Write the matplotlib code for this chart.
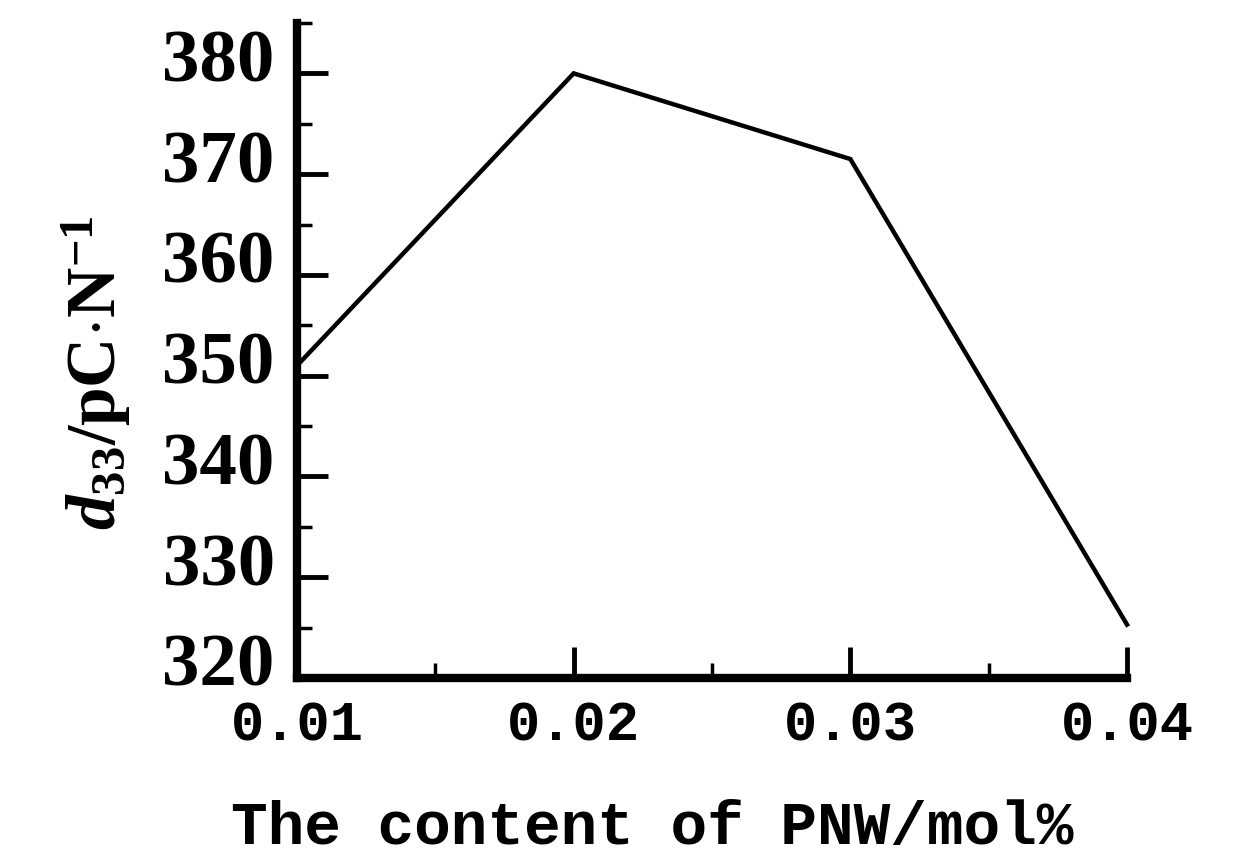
import matplotlib
matplotlib.use("Agg")
import matplotlib.pyplot as plt
import matplotlib.transforms as mtransforms
from matplotlib.ticker import MultipleLocator, FormatStrFormatter

# PNW content (mol%) and piezoelectric constant d33 (pC/N)
pnw_content = [0.01, 0.02, 0.03, 0.04]
d33_values = [351.0, 380.0, 371.5, 325.3]

plt.rcParams['mathtext.fontset'] = 'custom'
plt.rcParams['mathtext.rm'] = 'Liberation Serif:bold'
plt.rcParams['mathtext.it'] = 'Liberation Serif:italic:bold'
plt.rcParams['mathtext.bf'] = 'Liberation Serif:bold'

fig = plt.figure(figsize=(12.52, 8.65), dpi=100)
ax = fig.add_axes([297 / 1252, 1 - 678 / 865, 830 / 1252, 655 / 865])

ax.plot(pnw_content, d33_values, color='black', linewidth=3.2,
        solid_joinstyle='miter', clip_on=False)

ax.set_xlim(0.01, 0.04)
ax.set_ylim(320, 385)

ax.xaxis.set_major_locator(MultipleLocator(0.01))
ax.xaxis.set_minor_locator(MultipleLocator(0.005))
ax.yaxis.set_major_locator(MultipleLocator(10))
ax.yaxis.set_minor_locator(MultipleLocator(5))
ax.xaxis.set_major_formatter(FormatStrFormatter('%.2f'))

for side in ('top', 'right'):
    ax.spines[side].set_visible(False)
for side in ('left', 'bottom'):
    ax.spines[side].set_linewidth(6)
    ax.spines[side].set_capstyle('projecting')

ax.tick_params(which='major', direction='in', length=22, width=3.5)
ax.tick_params(which='minor', direction='in', length=11, width=2.5)
ax.tick_params(axis='y', which='major', pad=16)
ax.tick_params(axis='x', which='major', pad=16)

# the printed y labels sit a little above their ticks
shift_up = mtransforms.ScaledTranslation(0, 18 / 100, fig.dpi_scale_trans)
for lab in ax.get_yticklabels():
    lab.set_fontfamily('Liberation Serif')
    lab.set_fontweight('bold')
    lab.set_fontsize(54)
    lab.set_transform(lab.get_transform() + shift_up)
for lab in ax.get_xticklabels():
    lab.set_fontfamily('Liberation Mono')
    lab.set_fontweight('bold')
    lab.set_fontsize(40)

ax.set_xlabel('The content of PNW/mol%', fontfamily='Liberation Mono',
              fontweight='bold', fontsize=44)
ax.xaxis.set_label_coords(0.428, -0.185)

ax.set_ylabel(r'$\mathit{d}_{33}$/pC$\cdot$N$^{-1}$', fontfamily='Liberation Serif',
              fontweight='bold', fontsize=50)
ax.yaxis.set_label_coords(-0.198, 0.466)

fig.savefig('out.png', dpi=100, facecolor='white')
